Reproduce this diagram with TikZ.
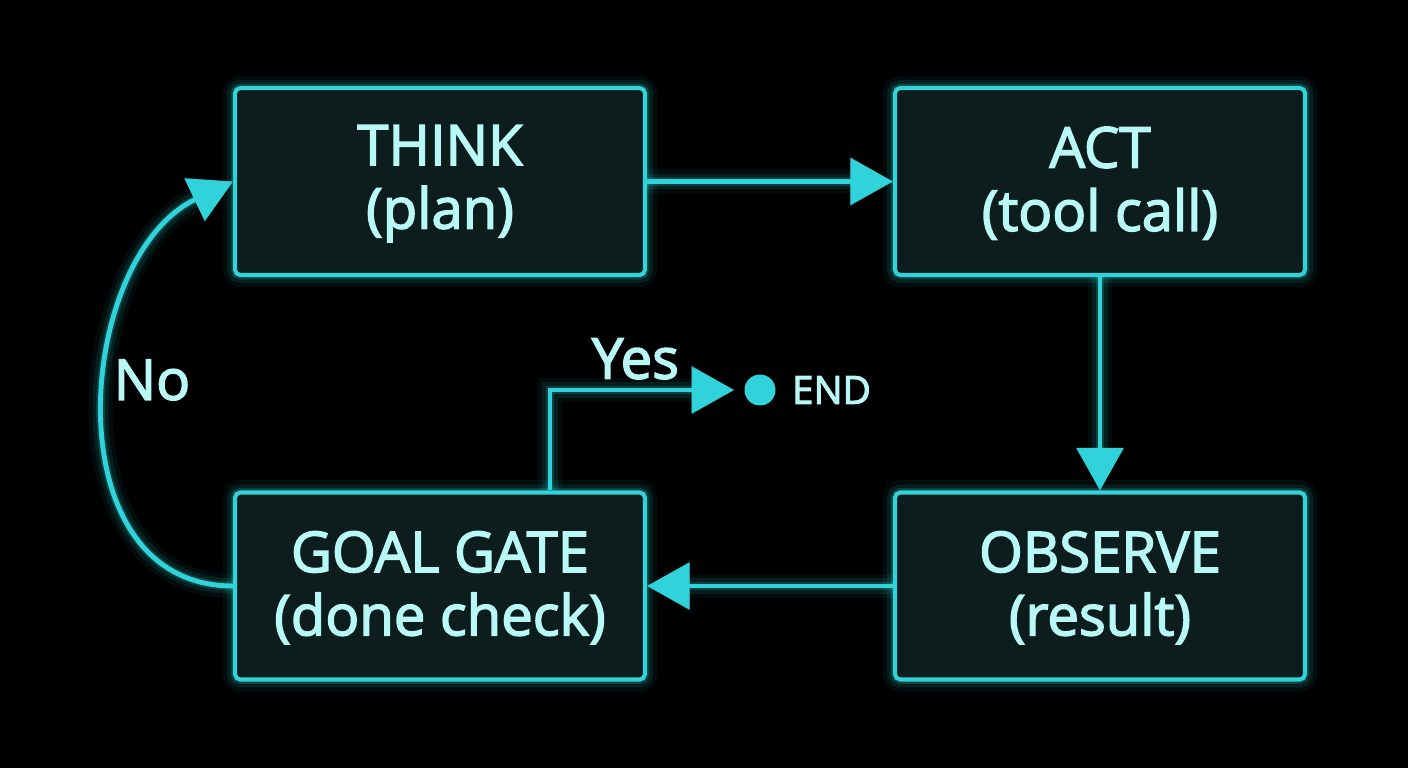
\documentclass[tikz,border=0pt]{standalone}
\usepackage{fontspec}
\setmainfont{Open Sans}
\newfontfamily\medfont{Open Sans}[FakeBold=2.6]
\usetikzlibrary{arrows.meta}
\definecolor{neon}{HTML}{2FD3D9}
\definecolor{neontext}{HTML}{B8F8F6}
\definecolor{boxfill}{HTML}{0D1C1C}
\begin{document}
\begin{tikzpicture}[node distance=13.2cm, auto,
        glow/.style={preaction={draw=neon, line width=14pt, opacity=0.06},
                     preaction={draw=neon, line width=9pt, opacity=0.10},
                     preaction={draw=neon, line width=5pt, opacity=0.18}},
        box/.style={rectangle, draw=neon, fill=boxfill, line width=2.3pt, glow, align=center, minimum width=8.2cm, minimum height=3.74cm, rounded corners=3pt, text=neontext, font=\fontsize{32}{36}\medfont},
        line/.style={draw=neon, line width=2.8pt, -{Triangle[length=0.85cm, width=0.92cm]}, glow},
        lbl/.style={text=neontext, font=\fontsize{32}{38}\medfont}]

        % background and page size
        \fill [black] (-8.8,3.63) rectangle (19.36,-11.73);

        \node [box] (think) {\strut THINK\\(plan)};
        \node [box, right of=think] (act) {\strut ACT\\(tool call)};
        \node [box, below of=act, node distance=8.09cm] (observe) {\strut OBSERVE\\(result)};
        \node [box, left of=observe] (goal) {\strut GOAL GATE\\(done check)};

        \node [circle, fill=neon, inner sep=0pt, minimum size=0.62cm] (enddot) at (6.4,-4.17) {};
        \node [right, text=neontext, font=\fontsize{22}{26}\medfont, xshift=0.2cm] (endtext) at (enddot.east) {END};

        \path [line] (think) -- (act);
        \path [line] (act) -- (observe);
        \path [line] (observe) -- (goal);
        \path [line, shorten >=0.2cm] ([xshift=2.2cm]goal.north) |- node [lbl, pos=0.72, above=0.05cm] (yes) {Yes} (enddot);
        \path [line] (goal.west) .. controls (-7.8,-8.09) and (-7.3,-1.5) .. (think.west);
        \node [lbl] (no) at (-5.76,-3.97) {No};
    \end{tikzpicture}
\end{document}
